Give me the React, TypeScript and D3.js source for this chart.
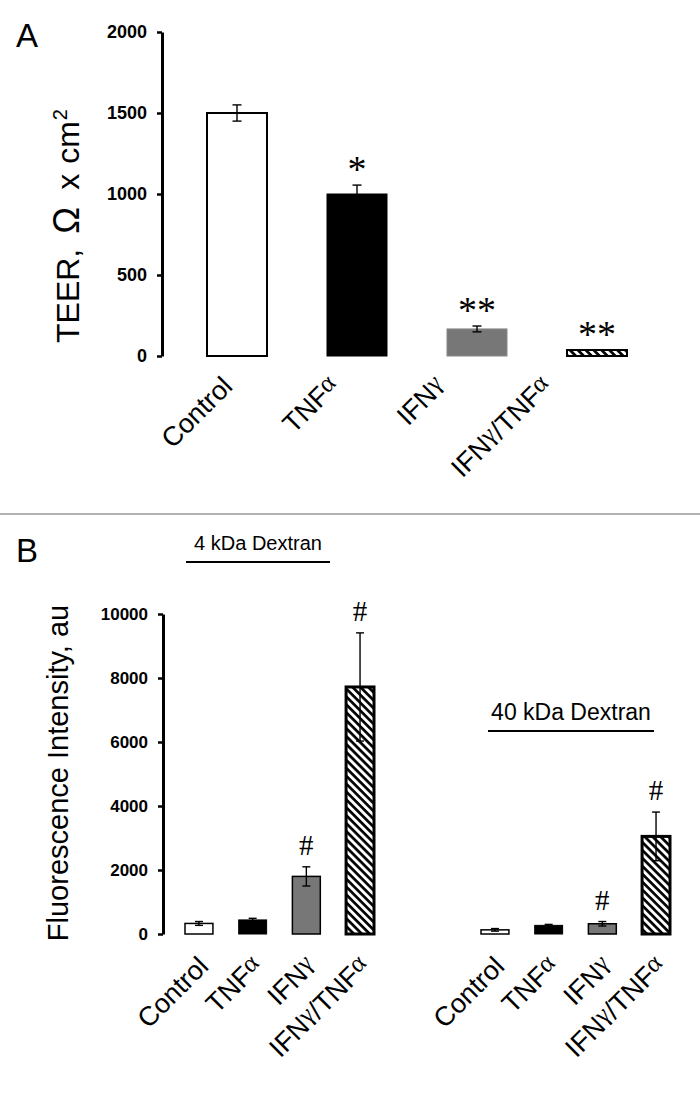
import { useEffect, useRef } from 'react';
import * as d3 from 'd3';

// groups shared by both panels
const categories = ['Control', 'TNFα', 'IFNγ', 'IFNγ/TNFα'];

// Panel A: TEER
const teerValues = [1500, 1000, 167, 37];
const teerErrors = [50, 55, 18, 0];
const teerMarks = ['', '*', '**', '**'];
const teerTicks = [0, 500, 1000, 1500, 2000];

// Panel B: dextran flux
const dex4Values = [330, 440, 1800, 7720];
const dex4Errors = [60, 50, 300, 1690];
const dex4Marks = ['', '', '#', '#'];
const dex40Values = [130, 270, 320, 3050];
const dex40Errors = [40, 30, 70, 760];
const dex40Marks = ['', '', '#', '#'];
const fluorTicks = [0, 2000, 4000, 6000, 8000, 10000];

const SANS = '"Liberation Sans", Arial, sans-serif';
const SERIF = '"Liberation Serif", "Times New Roman", serif';

const fills = ['#ffffff', '#000000', '#777777', 'url(#hatch)'];

// greek letters look like a symbol font, a bit raised
function greekLabel(t: any, label: string, size: number) {
  const parts = label.split(/([αγ])/).filter(p => p);
  let raised = false;
  parts.forEach(p => {
    const ts = t.append('tspan').text(p);
    if (p === 'α' || p === 'γ') {
      ts.attr('font-family', SERIF).attr('font-size', size * 0.95).attr('dy', -size * 0.18);
      raised = true;
    } else if (raised) {
      ts.attr('dy', size * 0.18);
      raised = false;
    }
  });
}

function drawBars(
  g: any, x: d3.ScaleBand<string>, y: d3.ScaleLinear<number, number>,
  values: number[], errors: number[], marks: string[],
  strokes: string[], widths: number[], cap: number,
  markFont: string, markSize: number, markGap: number
) {
  const data = categories.map((c, i) => ({ c, i, v: values[i], e: errors[i], m: marks[i] }));

  g.selectAll('rect.bar')
    .data(data)
    .enter()
    .append('rect')
    .attr('class', 'bar')
    .attr('x', (d: any) => x(d.c)!)
    .attr('y', (d: any) => y(d.v))
    .attr('width', x.bandwidth())
    .attr('height', (d: any) => y(0) - y(d.v))
    .attr('fill', (d: any) => fills[d.i])
    .attr('stroke', (d: any) => strokes[d.i])
    .attr('stroke-width', (d: any) => widths[d.i]);

  const err = g.selectAll('g.err')
    .data(data.filter(d => d.e > 0))
    .enter()
    .append('g')
    .attr('class', 'err')
    .attr('stroke', '#000')
    .attr('stroke-width', 1.4);
  const cx = (d: any) => x(d.c)! + x.bandwidth() / 2;
  err.append('line')
    .attr('x1', cx).attr('x2', cx)
    .attr('y1', (d: any) => y(d.v + d.e))
    .attr('y2', (d: any) => y(d.v - d.e));
  [1, -1].forEach(s => {
    err.append('line')
      .attr('x1', (d: any) => cx(d) - cap / 2)
      .attr('x2', (d: any) => cx(d) + cap / 2)
      .attr('y1', (d: any) => y(d.v + s * d.e))
      .attr('y2', (d: any) => y(d.v + s * d.e));
  });

  g.selectAll('text.mark')
    .data(data.filter(d => d.m))
    .enter()
    .append('text')
    .attr('class', 'mark')
    .attr('x', cx)
    .attr('y', (d: any) => y(d.v + d.e) - markGap)
    .attr('text-anchor', 'middle')
    .attr('font-family', markFont)
    .attr('font-size', markSize)
    .attr('fill', '#000')
    .text((d: any) => d.m);
}

function styleAxis(ax: any, size: number) {
  ax.select('.domain').attr('stroke-width', 3);
  ax.selectAll('.tick line').attr('stroke-width', 2.5);
  ax.selectAll('.tick text')
    .attr('font-family', SANS)
    .attr('font-weight', 'bold')
    .attr('font-size', size)
    .attr('fill', '#000');
}

export default function App() {
  const ref = useRef<SVGSVGElement>(null);

  useEffect(() => {
    if (!ref.current) return;
    document.body.style.margin = '0';
    const svg = d3.select(ref.current);
    svg.selectAll('*').remove();

    const defs = svg.append('defs');
    const pat = defs.append('pattern')
      .attr('id', 'hatch')
      .attr('patternUnits', 'userSpaceOnUse')
      .attr('width', 10)
      .attr('height', 5.6)
      .attr('patternTransform', 'rotate(45)');
    pat.append('rect').attr('width', 10).attr('height', 5.6).attr('fill', '#fff');
    pat.append('rect').attr('width', 10).attr('height', 2.7).attr('fill', '#000');

    // ---------- Panel A ----------
    const yA = d3.scaleLinear().domain([0, 2000]).range([356, 32]);
    const xA = d3.scaleBand<string>().domain(categories).range([177, 657])
      .paddingInner(0.5).paddingOuter(0.25);

    svg.append('text').attr('x', 16).attr('y', 47)
      .attr('font-family', SANS).attr('font-size', 33).text('A');

    const axA = svg.append('g').attr('transform', 'translate(162,0)')
      .call(d3.axisLeft(yA).tickValues(teerTicks).tickSize(5).tickPadding(10).tickSizeOuter(0).tickFormat(d3.format('d')));
    styleAxis(axA, 18);

    // y title
    const tA = svg.append('text')
      .attr('transform', 'translate(79,343) rotate(-90)')
      .attr('font-family', SANS).attr('font-size', 32).attr('fill', '#000');
    tA.append('tspan').text('TEER,');
    tA.append('tspan').attr('dx', 15).attr('font-size', 36).text('Ω');
    tA.append('tspan').attr('dx', 17).text('x');
    tA.append('tspan').attr('dx', 10).text('cm');
    tA.append('tspan').attr('font-size', 20).attr('dy', -12).attr('dx', 1).text('2');

    const gA = svg.append('g');
    drawBars(gA, xA, yA, teerValues, teerErrors, teerMarks,
      ['#000', '#000', '#888', '#000'], [2, 1, 1, 2], 9, SERIF, 38, 3);

    const labA = d3.scalePoint<string>().domain(categories).range([234, 553]);
    categories.forEach(c => {
      const t = svg.append('text')
        .attr('transform', `translate(${labA(c)},388) rotate(-45)`)
        .attr('text-anchor', 'end')
        .attr('font-family', SANS).attr('font-size', 27).attr('fill', '#000');
      greekLabel(t, c, 27);
    });

    svg.append('line').attr('x1', 0).attr('x2', 700).attr('y1', 514).attr('y2', 514)
      .attr('stroke', '#9a9a9a').attr('stroke-width', 1.5);

    // ---------- Panel B ----------
    const yB = d3.scaleLinear().domain([0, 10000]).range([934, 614]);
    const x4 = d3.scaleBand<string>().domain(categories).range([185, 374])
      .paddingInner(0.48).paddingOuter(0);
    const x40 = d3.scaleBand<string>().domain(categories).range([481, 670])
      .paddingInner(0.48).paddingOuter(0);

    svg.append('text').attr('x', 16).attr('y', 562)
      .attr('font-family', SANS).attr('font-size', 33).text('B');

    const axB = svg.append('g').attr('transform', 'translate(163,0)')
      .call(d3.axisLeft(yB).tickValues(fluorTicks).tickSize(5).tickPadding(10).tickSizeOuter(0).tickFormat(d3.format('d')));
    styleAxis(axB, 17);

    svg.append('text')
      .attr('transform', 'translate(68,773) rotate(-90)')
      .attr('text-anchor', 'middle')
      .attr('font-family', SANS).attr('font-size', 29).attr('fill', '#000')
      .text('Fluorescence Intensity, au');

    const titles = [
      { text: '4 kDa Dextran', size: 20, cx: 258, base: 550, line: 562, x1: 186, x2: 330 },
      { text: '40 kDa Dextran', size: 23, cx: 571, base: 720, line: 731, x1: 488, x2: 654 },
    ];
    titles.forEach(t => {
      svg.append('text').attr('x', t.cx).attr('y', t.base).attr('text-anchor', 'middle')
        .attr('font-family', SANS).attr('font-size', t.size).text(t.text);
      svg.append('line').attr('x1', t.x1).attr('x2', t.x2).attr('y1', t.line).attr('y2', t.line)
        .attr('stroke', '#000').attr('stroke-width', 2);
    });

    const strokesB = ['#000', '#000', '#000', '#000'];
    const widthsB = [1.5, 1, 1.5, 3];
    drawBars(svg.append('g'), x4, yB, dex4Values, dex4Errors, dex4Marks,
      strokesB, widthsB, 8, SERIF, 29, 12);
    drawBars(svg.append('g'), x40, yB, dex40Values, dex40Errors, dex40Marks,
      strokesB, widthsB, 8, SERIF, 29, 12);

    [x4, x40].forEach(xs => {
      categories.forEach(c => {
        const t = svg.append('text')
          .attr('transform', `translate(${xs(c)! + xs.bandwidth() / 2 + 11},968) rotate(-45)`)
          .attr('text-anchor', 'end')
          .attr('font-family', SANS).attr('font-size', 27).attr('fill', '#000');
        greekLabel(t, c, 27);
      });
    });
  }, []);

  return <svg ref={ref} width={700} height={1097} style={{ display: 'block', background: '#fff' }} />;
}
